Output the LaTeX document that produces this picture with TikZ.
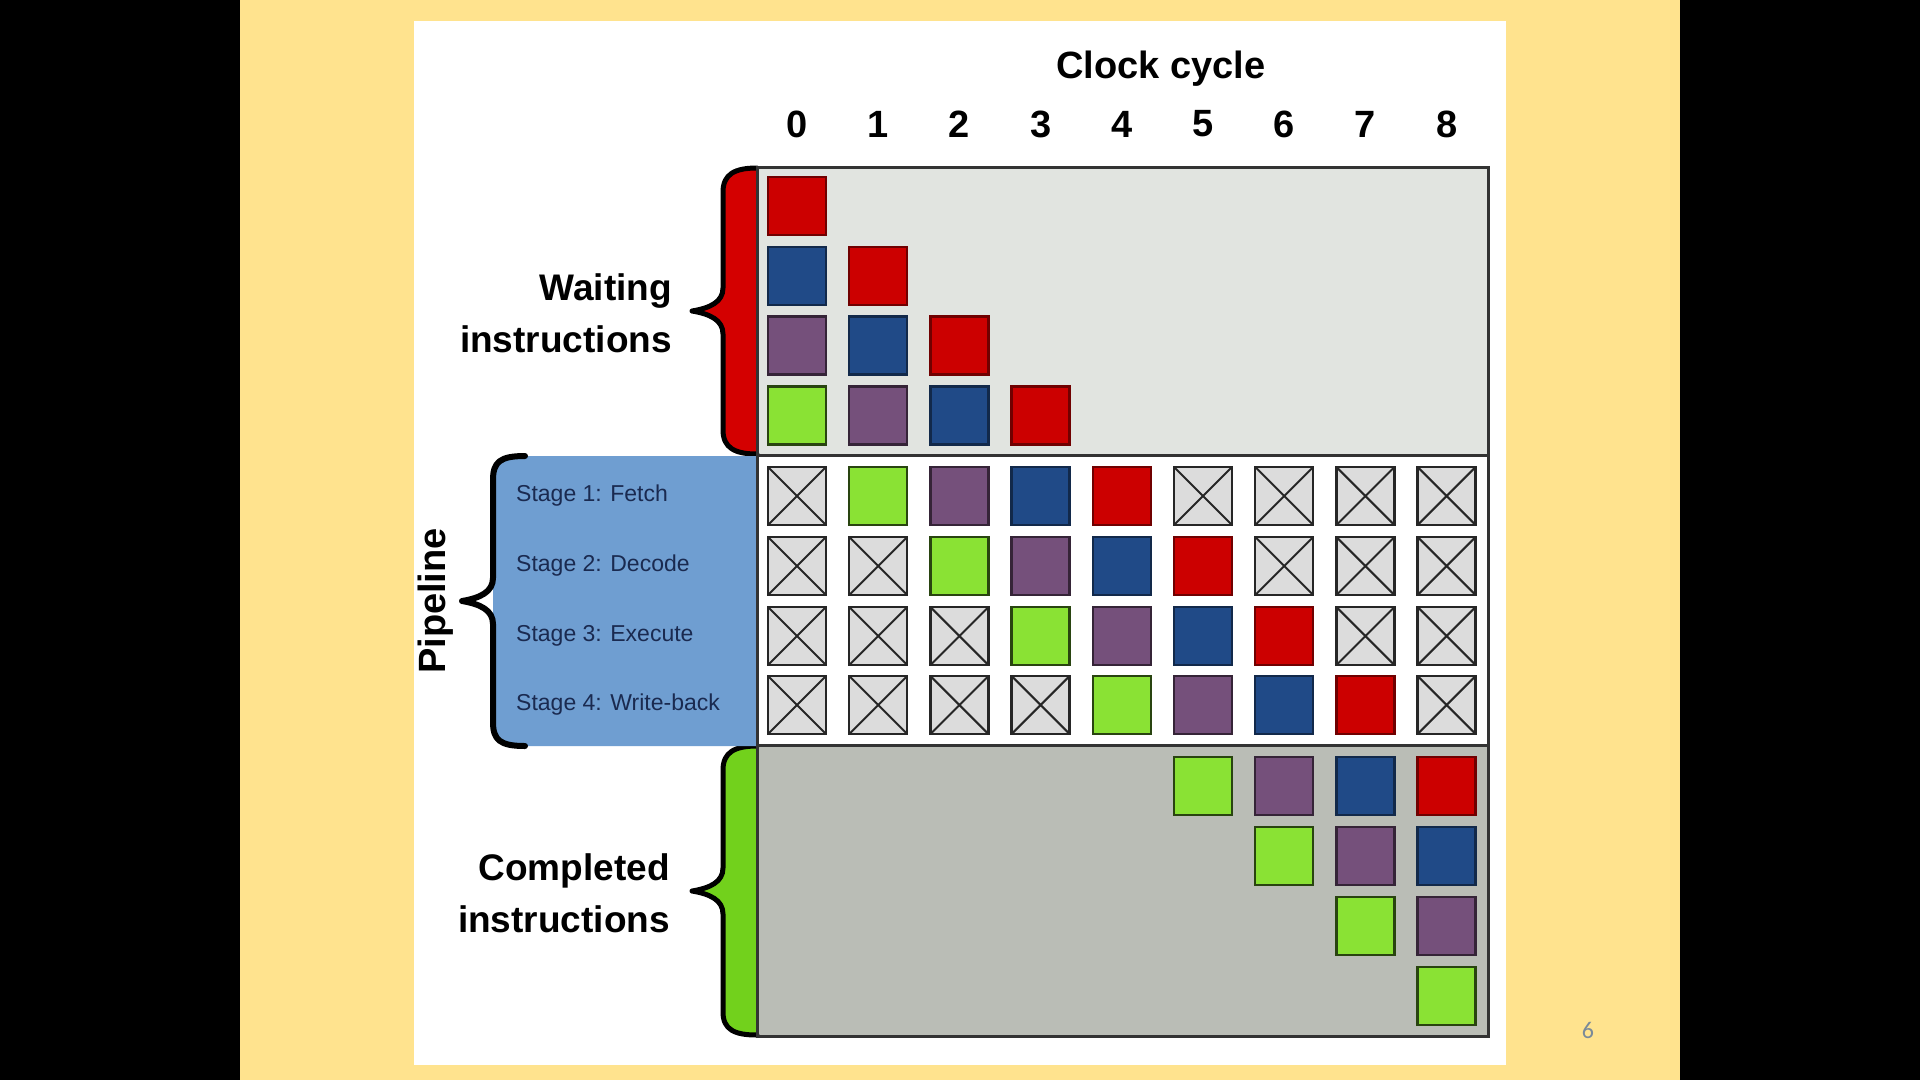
\documentclass[tikz,border=0pt]{standalone}
\usepackage{fontspec}
\setmainfont{Liberation Sans}
\newfontfamily\slidefont{Carlito}

% Tango-like palette
\definecolor{slideyellow}{HTML}{FFE38E}
\definecolor{waitbg}{HTML}{E1E4E0}
\definecolor{donebg}{HTML}{BABDB6}
\definecolor{emptybox}{HTML}{DCDCDC}
\definecolor{pipeblue}{HTML}{6F9ED1}
\definecolor{stagetext}{HTML}{1A2A50}
\definecolor{pagegray}{HTML}{7A8A99}
\definecolor{instR}{HTML}{CC0000}
\definecolor{instB}{HTML}{204A87}
\definecolor{instP}{HTML}{75507B}
\definecolor{instG}{HTML}{8AE234}
\definecolor{braceR}{HTML}{D40000}
\definecolor{braceG}{HTML}{72D11C}

\tikzset{
  box/.style={minimum width=58pt, minimum height=58pt, inner sep=0pt, line width=2.5pt},
  cellR/.style={box, fill=instR, draw=instR!55!black},
  cellB/.style={box, fill=instB, draw=instB!55!black},
  cellP/.style={box, fill=instP, draw=instP!45!black},
  cellG/.style={box, fill=instG, draw=instG!30!black},
  cellX/.style={box, fill=emptybox, draw=black!85,
    path picture={\draw[line width=2pt, black!85]
      (path picture bounding box.north west) -- (path picture bounding box.south east)
      (path picture bounding box.south west) -- (path picture bounding box.north east);}},
  gridline/.style={draw=black!80, line width=3pt},
  braceline/.style={draw=black, line width=5pt, line join=round, line cap=round},
  biglbl/.style={font=\fontsize{38}{52}\selectfont\bfseries, inner sep=0pt},
  sidelbl/.style={font=\fontsize{37}{52}\selectfont\bfseries, inner sep=0pt, anchor=east, align=right},
  stagelbl/.style={font=\fontsize{23}{26}\selectfont, text=stagetext, inner sep=0pt, anchor=west},
}

\newcommand\putcell[4]{\edef\cellnext{\noexpand\node[cell#2] (#1) at ({#3},{#4}) {};}\cellnext}

\begin{document}
\begin{tikzpicture}[x=1pt,y=-1pt]
\useasboundingbox (0,0) rectangle (1920,1080);

% slide background
\fill[black] (0,0) rectangle (1920,1080);
\fill[slideyellow] (240,0) rectangle (1680,1080);
\fill[white] (414,21) rectangle (1506,1065);

% bands of the timing grid
\fill[waitbg] (757,167) rectangle (1488,455);
\fill[donebg] (757,745) rectangle (1488,1036);

% red brace: waiting instructions
\fill[braceR] (757,168) .. controls (735,168) and (723,174) .. (723,192) -- (723,288)
  .. controls (723,302) and (710,308) .. (692,311) .. controls (710,314) and (723,320) .. (723,334)
  -- (723,430) .. controls (723,448) and (735,454) .. (757,454) -- cycle;
\draw[braceline] (757,168) .. controls (735,168) and (723,174) .. (723,192) -- (723,288)
  .. controls (723,302) and (710,308) .. (692,311) .. controls (710,314) and (723,320) .. (723,334)
  -- (723,430) .. controls (723,448) and (735,454) .. (757,454);

% green brace: completed instructions
\fill[braceG] (757,746) .. controls (735,746) and (723,752) .. (723,770) -- (723,868)
  .. controls (723,882) and (710,888) .. (692,891) .. controls (710,894) and (723,900) .. (723,914)
  -- (723,1012) .. controls (723,1030) and (735,1035) .. (757,1035) -- cycle;
\draw[braceline] (757,746) .. controls (735,746) and (723,752) .. (723,770) -- (723,868)
  .. controls (723,882) and (710,888) .. (692,891) .. controls (710,894) and (723,900) .. (723,914)
  -- (723,1012) .. controls (723,1030) and (735,1035) .. (757,1035);

% blue brace: pipeline stages
\fill[pipeblue] (525,456) .. controls (500,456) and (493,462) .. (493,480) -- (493,722)
  .. controls (493,740) and (500,746) .. (525,746) -- (757,746) -- (757,456) -- cycle;
\draw[braceline, line width=6pt] (525,456) .. controls (500,456) and (493,462) .. (493,480) -- (493,578)
  .. controls (493,592) and (480,598) .. (462,601) .. controls (480,604) and (493,610) .. (493,624)
  -- (493,722) .. controls (493,740) and (500,746) .. (525,746);

% grid frame
\draw[gridline] (757,167) rectangle (1488,1036);
\draw[gridline] (757,455) -- (1488,455);
\draw[gridline] (757,745) -- (1488,745);

% headings
\node[biglbl] (clock) at (1161,69) {Clock cycle};
\foreach \cc in {0,...,8}
  \node[biglbl] (num-\cc) at ({797+81.2*\cc},124) {\cc};

\node[sidelbl] (waiting) at (672,313) {Waiting\\instructions};
\node[sidelbl] (completed) at (670,893) {Completed\\instructions};
\node[biglbl, rotate=90] (pipeline) at (436,601) {Pipeline};

\node[stagelbl] (stage-1) at (516,496) {Stage 1: Fetch};
\node[stagelbl] (stage-2) at (516,566) {Stage 2: Decode};
\node[stagelbl] (stage-3) at (516,636) {Stage 3: Execute};
\node[stagelbl] (stage-4) at (516,705) {Stage 4: Write-back};

% waiting instructions
\foreach \rr/\cc/\kk in {0/0/R, 1/0/B, 1/1/R, 2/0/P, 2/1/B, 2/2/R, 3/0/G, 3/1/P, 3/2/B, 3/3/R}
  {\putcell{w-\rr-\cc}{\kk}{797+81.2*\cc}{206+69.8*\rr}}

% pipeline stages
\foreach \kk [count=\cc from 0] in {X,G,P,B,R,X,X,X,X}
  {\putcell{p-0-\cc}{\kk}{797+81.2*\cc}{496}}
\foreach \kk [count=\cc from 0] in {X,X,G,P,B,R,X,X,X}
  {\putcell{p-1-\cc}{\kk}{797+81.2*\cc}{566}}
\foreach \kk [count=\cc from 0] in {X,X,X,G,P,B,R,X,X}
  {\putcell{p-2-\cc}{\kk}{797+81.2*\cc}{636}}
\foreach \kk [count=\cc from 0] in {X,X,X,X,G,P,B,R,X}
  {\putcell{p-3-\cc}{\kk}{797+81.2*\cc}{705}}

% completed instructions
\foreach \rr/\cc/\kk in {0/5/G, 0/6/P, 0/7/B, 0/8/R, 1/6/G, 1/7/P, 1/8/B, 2/7/G, 2/8/P, 3/8/G}
  {\putcell{d-\rr-\cc}{\kk}{797+81.2*\cc}{786+70*\rr}}

% slide number
\node[font=\slidefont\fontsize{24}{26}\selectfont, text=pagegray] (slide-no) at (1588,1030) {6};
\end{tikzpicture}
\end{document}
